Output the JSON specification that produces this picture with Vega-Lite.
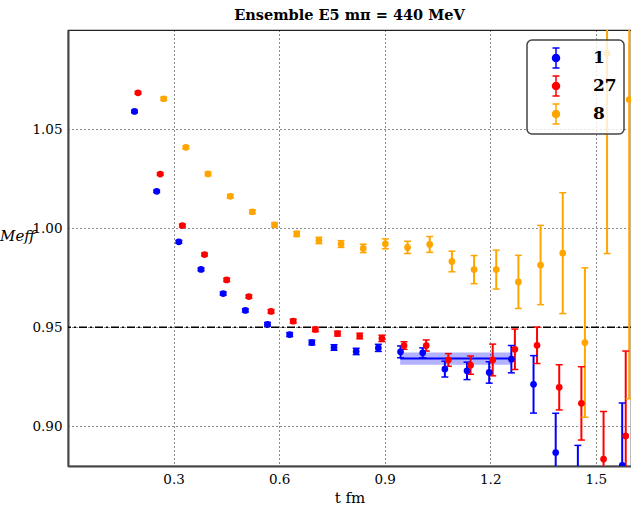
{
 "$schema": "https://vega.github.io/schema/vega-lite/v6.json",
 "width": 563, "height": 436,
 "autosize": {"type": "none"},
 "padding": {"left": 68, "top": 30, "right": 0, "bottom": 46},
 "background": "white",
 "title": {"text": "Ensemble E5 mπ = 440 MeV", "font": "DejaVu Serif", "fontSize": 14.5, "fontWeight": "bold", "color": "black", "offset": 7},
 "datasets": {
  "pts": [
   {"s":"1","t":0.189,"M":1.0589,"lo":1.0583,"hi":1.0595},
   {"s":"1","t":0.252,"M":1.0186,"lo":1.0180,"hi":1.0192},
   {"s":"1","t":0.315,"M":0.9931,"lo":0.9924,"hi":0.9938},
   {"s":"1","t":0.378,"M":0.9792,"lo":0.9785,"hi":0.9799},
   {"s":"1","t":0.441,"M":0.9670,"lo":0.9662,"hi":0.9678},
   {"s":"1","t":0.504,"M":0.9585,"lo":0.9577,"hi":0.9593},
   {"s":"1","t":0.567,"M":0.9515,"lo":0.9506,"hi":0.9524},
   {"s":"1","t":0.630,"M":0.9463,"lo":0.9453,"hi":0.9473},
   {"s":"1","t":0.693,"M":0.9423,"lo":0.9411,"hi":0.9435},
   {"s":"1","t":0.756,"M":0.9398,"lo":0.9384,"hi":0.9412},
   {"s":"1","t":0.819,"M":0.9378,"lo":0.9362,"hi":0.9394},
   {"s":"1","t":0.882,"M":0.9396,"lo":0.9378,"hi":0.9414},
   {"s":"1","t":0.945,"M":0.9376,"lo":0.9346,"hi":0.9406},
   {"s":"1","t":1.008,"M":0.9371,"lo":0.9346,"hi":0.9396},
   {"s":"1","t":1.071,"M":0.9289,"lo":0.9249,"hi":0.9329},
   {"s":"1","t":1.134,"M":0.9280,"lo":0.9236,"hi":0.9324},
   {"s":"1","t":1.197,"M":0.9272,"lo":0.9218,"hi":0.9326},
   {"s":"1","t":1.260,"M":0.9339,"lo":0.9270,"hi":0.9408},
   {"s":"1","t":1.323,"M":0.9212,"lo":0.9067,"hi":0.9357},
   {"s":"1","t":1.386,"M":0.8868,"lo":0.8670,"hi":0.9066},
   {"s":"1","t":1.449,"M":0.8660,"lo":0.8416,"hi":0.8904},
   {"s":"1","t":1.575,"M":0.8803,"lo":0.8488,"hi":0.9118},
   {"s":"27","t":0.199,"M":1.0683,"lo":1.0677,"hi":1.0689},
   {"s":"27","t":0.262,"M":1.0273,"lo":1.0267,"hi":1.0279},
   {"s":"27","t":0.325,"M":1.0013,"lo":1.0006,"hi":1.0020},
   {"s":"27","t":0.388,"M":0.9867,"lo":0.9860,"hi":0.9874},
   {"s":"27","t":0.451,"M":0.9739,"lo":0.9731,"hi":0.9747},
   {"s":"27","t":0.514,"M":0.9655,"lo":0.9647,"hi":0.9663},
   {"s":"27","t":0.577,"M":0.9580,"lo":0.9571,"hi":0.9589},
   {"s":"27","t":0.640,"M":0.9531,"lo":0.9521,"hi":0.9541},
   {"s":"27","t":0.703,"M":0.9489,"lo":0.9478,"hi":0.9500},
   {"s":"27","t":0.766,"M":0.9468,"lo":0.9456,"hi":0.9480},
   {"s":"27","t":0.829,"M":0.9456,"lo":0.9442,"hi":0.9470},
   {"s":"27","t":0.892,"M":0.9444,"lo":0.9428,"hi":0.9460},
   {"s":"27","t":0.955,"M":0.9408,"lo":0.9389,"hi":0.9427},
   {"s":"27","t":1.018,"M":0.9408,"lo":0.9380,"hi":0.9436},
   {"s":"27","t":1.081,"M":0.9335,"lo":0.9303,"hi":0.9367},
   {"s":"27","t":1.144,"M":0.9309,"lo":0.9263,"hi":0.9355},
   {"s":"27","t":1.207,"M":0.9335,"lo":0.9255,"hi":0.9415},
   {"s":"27","t":1.270,"M":0.9389,"lo":0.9287,"hi":0.9491},
   {"s":"27","t":1.333,"M":0.9409,"lo":0.9317,"hi":0.9501},
   {"s":"27","t":1.396,"M":0.9197,"lo":0.9083,"hi":0.9311},
   {"s":"27","t":1.459,"M":0.9116,"lo":0.8931,"hi":0.9301},
   {"s":"27","t":1.522,"M":0.8835,"lo":0.8595,"hi":0.9075},
   {"s":"27","t":1.585,"M":0.8952,"lo":0.8524,"hi":0.9380},
   {"s":"8","t":0.272,"M":1.0653,"lo":1.0645,"hi":1.0661},
   {"s":"8","t":0.335,"M":1.0408,"lo":1.0400,"hi":1.0416},
   {"s":"8","t":0.398,"M":1.0274,"lo":1.0265,"hi":1.0283},
   {"s":"8","t":0.461,"M":1.0161,"lo":1.0152,"hi":1.0170},
   {"s":"8","t":0.524,"M":1.0083,"lo":1.0073,"hi":1.0093},
   {"s":"8","t":0.587,"M":1.0017,"lo":1.0006,"hi":1.0028},
   {"s":"8","t":0.650,"M":0.9971,"lo":0.9958,"hi":0.9984},
   {"s":"8","t":0.713,"M":0.9938,"lo":0.9922,"hi":0.9954},
   {"s":"8","t":0.776,"M":0.9920,"lo":0.9903,"hi":0.9937},
   {"s":"8","t":0.839,"M":0.9898,"lo":0.9877,"hi":0.9919},
   {"s":"8","t":0.902,"M":0.9921,"lo":0.9896,"hi":0.9946},
   {"s":"8","t":0.965,"M":0.9903,"lo":0.9872,"hi":0.9934},
   {"s":"8","t":1.028,"M":0.9918,"lo":0.9878,"hi":0.9958},
   {"s":"8","t":1.091,"M":0.9832,"lo":0.9780,"hi":0.9884},
   {"s":"8","t":1.154,"M":0.9791,"lo":0.9720,"hi":0.9862},
   {"s":"8","t":1.217,"M":0.9791,"lo":0.9693,"hi":0.9889},
   {"s":"8","t":1.280,"M":0.9729,"lo":0.9595,"hi":0.9863},
   {"s":"8","t":1.343,"M":0.9814,"lo":0.9614,"hi":1.0014},
   {"s":"8","t":1.406,"M":0.9874,"lo":0.9569,"hi":1.0179},
   {"s":"8","t":1.469,"M":0.9423,"lo":0.9046,"hi":0.9800},
   {"s":"8","t":1.532,"M":1.0882,"lo":0.9872,"hi":1.1892},
   {"s":"8","t":1.595,"M":1.0649,"lo":0.9139,"hi":1.2159}
  ],
  "fit": [{"t":0.944,"t2":1.261,"M":0.9342,"lo":0.9311,"hi":0.9373}],
  "ref": [{"M":0.950}]
 },
 "layer": [
  {
   "data": {"name": "ref"},
   "mark": {"type": "rule", "color": "black", "strokeWidth": 1.3, "strokeDash": [8, 3, 2, 3]},
   "encoding": {
    "y": {"field": "M", "type": "quantitative", "scale": {"domain": [0.88, 1.10], "nice": false, "zero": false}, "axis": {"values": [0.90, 0.95, 1.00, 1.05], "format": ".2f"}, "title": "Meff"}
   }
  },
  {
   "data": {"name": "fit"},
   "mark": {"type": "rect", "color": "#0000ff", "opacity": 0.3, "clip": true},
   "encoding": {
    "x": {"field": "t", "type": "quantitative", "scale": {"domain": [0, 1.6], "nice": false, "zero": false}, "axis": {"values": [0.3, 0.6, 0.9, 1.2, 1.5], "format": ".1f"}, "title": "t  fm"},
    "x2": {"field": "t2"},
    "y": {"field": "lo", "type": "quantitative", "title": "Meff"},
    "y2": {"field": "hi"}
   }
  },
  {
   "data": {"name": "fit"},
   "mark": {"type": "rule", "color": "#0000ff", "strokeWidth": 2, "clip": true},
   "encoding": {
    "x": {"field": "t", "type": "quantitative", "title": "t  fm"},
    "x2": {"field": "t2"},
    "y": {"field": "M", "type": "quantitative", "title": "Meff"}
   }
  },
  {
   "data": {"name": "pts"},
   "mark": {"type": "rule", "strokeWidth": 2, "clip": true},
   "encoding": {
    "x": {"field": "t", "type": "quantitative", "title": "t  fm"},
    "y": {"field": "lo", "type": "quantitative", "title": "Meff"},
    "y2": {"field": "hi"},
    "color": {"field": "s", "type": "nominal", "scale": {"domain": ["1", "27", "8"], "range": ["#0000ff", "#ff0000", "#ffa500"]},
     "legend": {
      "orient": "none", "legendX": 459, "legendY": 10, "title": null,
      "symbolType": "M0,-1L0,1M-0.35,-1L0.35,-1M-0.35,1L0.35,1M-0.35,0A0.35,0.35 0 1,0 0.35,0A0.35,0.35 0 1,0 -0.35,0Z",
      "symbolSize": 400, "symbolOffset": 11, "labelOffset": 26,
      "labelFont": "DejaVu Serif", "labelFontSize": 17, "labelFontWeight": "bold", "labelColor": "black",
      "padding": 7, "rowPadding": 2,
      "fillColor": "rgba(255,255,255,0.8)", "strokeColor": "#444", "cornerRadius": 5,
      "encode": {
       "legend": {"update": {"strokeWidth": {"value": 1.5}}},
       "symbols": {"update": {"fill": {"scale": "color", "field": "value"}, "stroke": {"scale": "color", "field": "value"}, "strokeWidth": {"value": 1.5}, "opacity": {"value": 1}}}
      }
     }
    }
   }
  },
  {
   "data": {"name": "pts"},
   "mark": {"type": "tick", "orient": "horizontal", "size": 7, "thickness": 1.5, "opacity": 1, "clip": true},
   "encoding": {
    "x": {"field": "t", "type": "quantitative", "title": "t  fm"},
    "y": {"field": "lo", "type": "quantitative", "title": "Meff"},
    "color": {"field": "s", "type": "nominal"}
   }
  },
  {
   "data": {"name": "pts"},
   "mark": {"type": "tick", "orient": "horizontal", "size": 7, "thickness": 1.5, "opacity": 1, "clip": true},
   "encoding": {
    "x": {"field": "t", "type": "quantitative", "title": "t  fm"},
    "y": {"field": "hi", "type": "quantitative", "title": "Meff"},
    "color": {"field": "s", "type": "nominal"}
   }
  },
  {
   "data": {"name": "pts"},
   "mark": {"type": "point", "filled": true, "size": 45, "opacity": 1, "clip": true},
   "encoding": {
    "x": {"field": "t", "type": "quantitative", "title": "t  fm"},
    "y": {"field": "M", "type": "quantitative", "title": "Meff"},
    "color": {"field": "s", "type": "nominal"}
   }
  }
 ],
 "config": {
  "view": {"stroke": "#222", "strokeWidth": 1.2},
  "axis": {
   "labelFont": "DejaVu Serif", "labelFontSize": 13.5, "labelColor": "black",
   "titleFont": "DejaVu Serif", "titleFontSize": 15, "titleFontWeight": "normal", "titleColor": "black",
   "grid": true, "gridColor": "black", "gridDash": [1, 3], "gridOpacity": 0.9, "gridWidth": 1,
   "ticks": false, "domainColor": "#444", "domainWidth": 2, "labelPadding": 6
  },
  "axisY": {"titleAngle": 0, "titleX": -51, "titleY": 205, "titleAlign": "center", "titleBaseline": "middle", "titleFontStyle": "italic"},
  "axisX": {"titlePadding": 5}
 }
}
